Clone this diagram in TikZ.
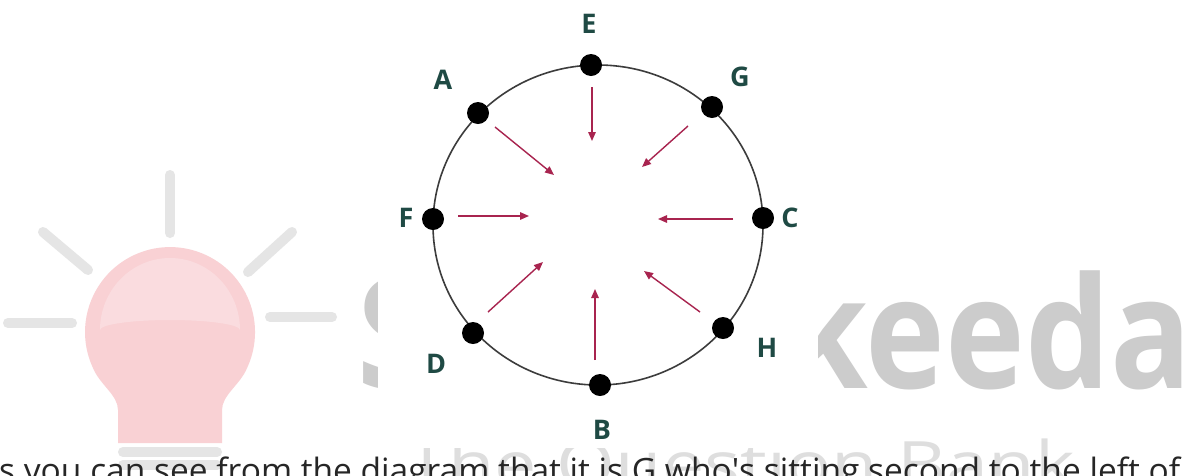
\documentclass[tikz,border=0pt]{standalone}
\usepackage{fontspec}
\setmainfont{Open Sans}
\usetikzlibrary{arrows.meta}
\definecolor{lblc}{HTML}{1F4A44}
\definecolor{arrc}{HTML}{A8244F}
\definecolor{bulbc}{HTML}{F9D1D4}
\definecolor{bulbhi}{HTML}{FADCDF}
\definecolor{rayc}{HTML}{E5E5E5}
\definecolor{wmc}{HTML}{CCCCCC}
\definecolor{wmq}{HTML}{DEDEDE}
\definecolor{txtc}{HTML}{262626}
\definecolor{circc}{HTML}{3C3C3C}
\begin{document}
\begin{tikzpicture}[x=1pt,y=-1pt,
  dot/.style={circle,fill=black,inner sep=0pt,minimum size=22pt},
  lbl/.style={text=lblc,font=\fontsize{27}{27}\selectfont\bfseries,inner sep=0pt},
  arr/.style={draw=arrc,line width=1.4pt,-{Triangle[length=9pt,width=7.5pt]}},
  ray/.style={draw=rayc,line width=10pt,line cap=round},
  wm/.style={text=wmc,font=\fontsize{155}{155}\selectfont\bfseries,inner sep=0pt},
  wmtwo/.style={text=wmq,font=\fontsize{64}{64}\selectfont,inner sep=0pt},
  para/.style={text=txtc,font=\fontsize{33.5}{33.5}\selectfont,inner sep=0pt}]
\useasboundingbox (0,0) rectangle (1183,475);
\clip (0,0) rectangle (1183,475);
\fill[white] (0,0) rectangle (1183,475);
% watermark
\draw[ray] (170,175) -- (170,233);
\draw[ray] (43,232) -- (88,270);
\draw[ray] (292,232) -- (248,272);
\draw[ray] (8,323) -- (72,323);
\draw[ray] (270,317) -- (332,317);
\fill[bulbc] (93,368) arc[start angle=155,end angle=385,radius=85]
  .. controls (240,385) and (222,395) .. (222,410) -- (222,443) -- (118,443) -- (118,410)
  .. controls (118,395) and (100,385) .. (93,368) -- cycle;
\fill[bulbhi] (100,330) arc[start angle=180,end angle=360,x radius=70,y radius=72]
  arc[start angle=0,end angle=-180,x radius=70,y radius=10] -- cycle;
\draw[ray] (123,452) -- (217,452);
\draw[ray] (123,465) -- (217,465);
\node[wm,anchor=base west] (wmS) at (356,388) {S};
\node[wm,anchor=base east] (wmK) at (1192,388) {\scalebox{0.87}[1]{keeda}};
\node[wmtwo,anchor=base east] (wmQ) at (1075,487) {\scalebox{1.18}[1]{The Question Bank}};
% picture area
\fill[white] (378,0) rectangle (818,448);
\draw[circc,line width=1.6pt] (598,225) ellipse [x radius=165,y radius=160];
\node[dot] (E) at (591,65) {};
\node[dot] (A) at (478,113) {};
\node[dot] (G) at (712,107) {};
\node[dot] (F) at (433,219) {};
\node[dot] (C) at (763,218) {};
\node[dot] (D) at (473,333) {};
\node[dot] (B) at (600,385) {};
\node[dot] (H) at (723,328) {};
\node[lbl] (lE) at (589,24) {E};
\node[lbl] (lA) at (443,80) {A};
\node[lbl] (lG) at (740,77) {G};
\node[lbl] (lF) at (406,218) {F};
\node[lbl] (lC) at (790,218) {C};
\node[lbl] (lD) at (436,364) {D};
\node[lbl] (lB) at (602,430) {B};
\node[lbl] (lH) at (767,348) {H};
\coordinate (eS) at (592,87);  \coordinate (eT) at (592,141);
\coordinate (aS) at (495,127); \coordinate (aT) at (554,175);
\coordinate (gS) at (688,126); \coordinate (gT) at (642,167);
\coordinate (fS) at (458,216); \coordinate (fT) at (529,216);
\coordinate (cS) at (733,219); \coordinate (cT) at (658,219);
\coordinate (dS) at (488,312); \coordinate (dT) at (543,262);
\coordinate (bS) at (595,360); \coordinate (bT) at (595,289);
\coordinate (hS) at (700,312); \coordinate (hT) at (644,271);
\draw[arr] (eS) -- (eT);
\draw[arr] (aS) -- (aT);
\draw[arr] (gS) -- (gT);
\draw[arr] (fS) -- (fT);
\draw[arr] (cS) -- (cT);
\draw[arr] (dS) -- (dT);
\draw[arr] (bS) -- (bT);
\draw[arr] (hS) -- (hT);
\node[para,anchor=base west] (txt) at (-1,482) {s you can see from the diagram that it is G who\textquotesingle s sitting second to the left of};
\end{tikzpicture}
\end{document}
